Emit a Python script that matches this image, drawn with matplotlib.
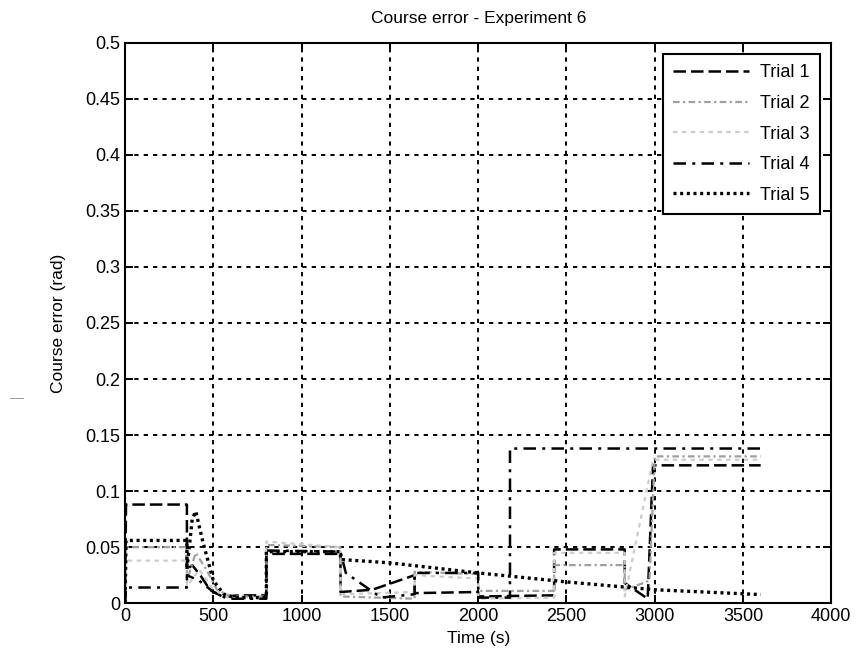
import matplotlib
matplotlib.use("Agg")
import matplotlib.pyplot as plt
import numpy as np

plt.rcParams['font.family'] = ['Liberation Sans', 'DejaVu Sans']

# breakpoints (time in s, error in rad)
t1 = [0, 5, 350, 350, 380, 430, 480, 550, 650, 800, 800, 1220, 1220, 1400, 1640, 1640, 2000,
      2000, 2430, 2430, 2830, 2830, 2960, 2990, 3600]
v1 = [0.0, 0.088, 0.088, 0.03, 0.034, 0.024, 0.012, 0.006, 0.007, 0.007, 0.044, 0.044, 0.01,
      0.012, 0.025, 0.009, 0.01, 0.006, 0.007, 0.048, 0.048, 0.018, 0.004, 0.123, 0.123]

t2 = [0, 5, 350, 350, 400, 460, 520, 600, 800, 800, 1220, 1220, 1640, 1640, 2000, 2000,
      2430, 2430, 2830, 2830, 2970, 3000, 3600]
v2 = [0.0, 0.05, 0.05, 0.02, 0.045, 0.03, 0.012, 0.006, 0.006, 0.052, 0.05, 0.006, 0.004,
      0.028, 0.026, 0.011, 0.011, 0.034, 0.034, 0.012, 0.02, 0.131, 0.131]

t3 = [0, 5, 350, 350, 420, 500, 600, 800, 800, 1220, 1220, 1640, 1640, 2000, 2000, 2430,
      2430, 2830, 2830, 2990, 3600]
v3 = [0.0, 0.038, 0.038, 0.015, 0.03, 0.012, 0.004, 0.004, 0.055, 0.05, 0.008, 0.01, 0.025,
      0.022, 0.004, 0.005, 0.045, 0.045, 0.006, 0.128, 0.128]

t4 = [0, 5, 350, 350, 420, 500, 580, 800, 800, 1220, 1250, 1450, 1640, 1640, 2000, 2000,
      2180, 2180, 3600]
v4 = [0.0, 0.014, 0.014, 0.025, 0.02, 0.01, 0.004, 0.004, 0.047, 0.046, 0.027, 0.005, 0.008,
      0.027, 0.027, 0.005, 0.005, 0.138, 0.138]

t5 = [0, 5, 350, 350, 380, 400, 440, 500, 560, 620, 800, 800, 1220, 1220, 1500, 2000, 2500,
      3000, 3600]
v5 = [0.0, 0.056, 0.056, 0.03, 0.075, 0.082, 0.055, 0.02, 0.008, 0.005, 0.005, 0.046, 0.046,
      0.039, 0.036, 0.027, 0.019, 0.012, 0.0077]

labels = ['Trial 1', 'Trial 2', 'Trial 3', 'Trial 4', 'Trial 5']
yticks = [0, 0.05, 0.1, 0.15, 0.2, 0.25, 0.3, 0.35, 0.4, 0.45, 0.5]
ytick_labels = ['0', '0.05', '0.1', '0.15', '0.2', '0.25', '0.3', '0.35', '0.4', '0.45', '0.5']
xticks = [0, 500, 1000, 1500, 2000, 2500, 3000, 3500, 4000]

fig = plt.figure(figsize=(8.57, 6.68), dpi=100)
ax = fig.add_axes([0.146, 0.097, 0.824, 0.839])

ax.plot(t1, v1, color='black', lw=1.8, dashes=(5, 2), label=labels[0])
ax.plot(t2, v2, color='#a0a0a0', lw=1.6, dashes=(3, 1.5, 1, 1.5), label=labels[1])
ax.plot(t3, v3, color='#cccccc', lw=1.6, dashes=(2, 2), label=labels[2])
ax.plot(t4, v4, color='black', lw=1.8, dashes=(5, 2.5, 1.2, 2.5), label=labels[3])
ax.plot(t5, v5, color='black', lw=2.4, dashes=(0.9, 1.1), label=labels[4])

ax.set_xlim(0, 4000)
ax.set_ylim(0, 0.5)
ax.set_xticks(xticks)
ax.set_yticks(yticks)
ax.set_yticklabels(ytick_labels)
ax.tick_params(direction='in', top=True, right=True, labelsize=13, length=6, width=1.4)
for s in ax.spines.values():
    s.set_linewidth(1.5)
ax.grid(True, color='black', lw=1.4, linestyle=(0, (2.2, 2.6)))

ax.set_title('Course error - Experiment 6', fontsize=12.5, pad=14)
ax.set_xlabel('Time (s)', fontsize=12.5)
ax.set_ylabel('Course error (rad)', fontsize=12.5, labelpad=14)

leg = ax.legend(loc='upper right', fontsize=13, fancybox=False, framealpha=1,
                edgecolor='black', handlelength=4.2, borderaxespad=0.6, labelspacing=0.75,
                borderpad=0.6, handletextpad=0.6)
leg.get_frame().set_linewidth(1.5)

# small stray mark left of the y label in the scan
fig.text(0.012, 0.398, '\u2014', color='#999999', fontsize=10)

fig.savefig('out.png', dpi=100)
